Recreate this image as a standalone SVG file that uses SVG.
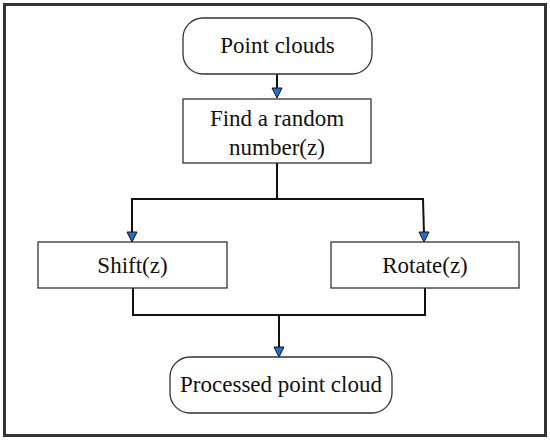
<svg xmlns="http://www.w3.org/2000/svg" width="550" height="440" viewBox="0 0 550 440">
<style>
.box{fill:#fff;stroke:#333;stroke-width:1.3}
.t{font-family:"Liberation Serif","Times New Roman",serif;font-size:23px;fill:#111;text-anchor:middle}
.ln{fill:none;stroke:#111;stroke-width:2}
.ah{fill:#1e6fd0;stroke:#111;stroke-width:1}
</style>
<rect x="4.5" y="4.5" width="541" height="431" fill="#fff" stroke="#333" stroke-width="3"/>
<g id="connectors">
<path class="ln" d="M277,74 V90"/>
<path class="ln" d="M277,163 V199 H132 V234"/>
<path class="ln" d="M277,199 H423 L424,234"/>
<path class="ln" d="M133,288 V315 H425 V288"/>
<path class="ln" d="M279,315 V349"/>
<path class="ah" d="M272,88 L282,88 L277,98 Z"/>
<path class="ah" d="M127,232 L137,232 L132,242 Z"/>
<path class="ah" d="M419,232 L429,232 L424,242 Z"/>
<path class="ah" d="M274,347 L284,347 L279,357 Z"/>
</g>
<g id="point-clouds">
<rect class="box" x="183" y="18" width="189" height="56" rx="20"/>
<text class="t" x="277.5" y="53">Point clouds</text>
</g>
<g id="find-random">
<rect class="box" x="183" y="99" width="188" height="64"/>
<text class="t" x="277" y="126">Find a random</text>
<text class="t" x="277" y="155">number(z)</text>
</g>
<g id="shift">
<rect class="box" x="38" y="242" width="189" height="46"/>
<text class="t" x="132.5" y="273">Shift(z)</text>
</g>
<g id="rotate">
<rect class="box" x="331" y="242" width="188" height="46"/>
<text class="t" x="425" y="273">Rotate(z)</text>
</g>
<g id="processed">
<rect class="box" x="170" y="357" width="222" height="56" rx="20"/>
<text class="t" x="281" y="392">Processed point cloud</text>
</g>
</svg>
